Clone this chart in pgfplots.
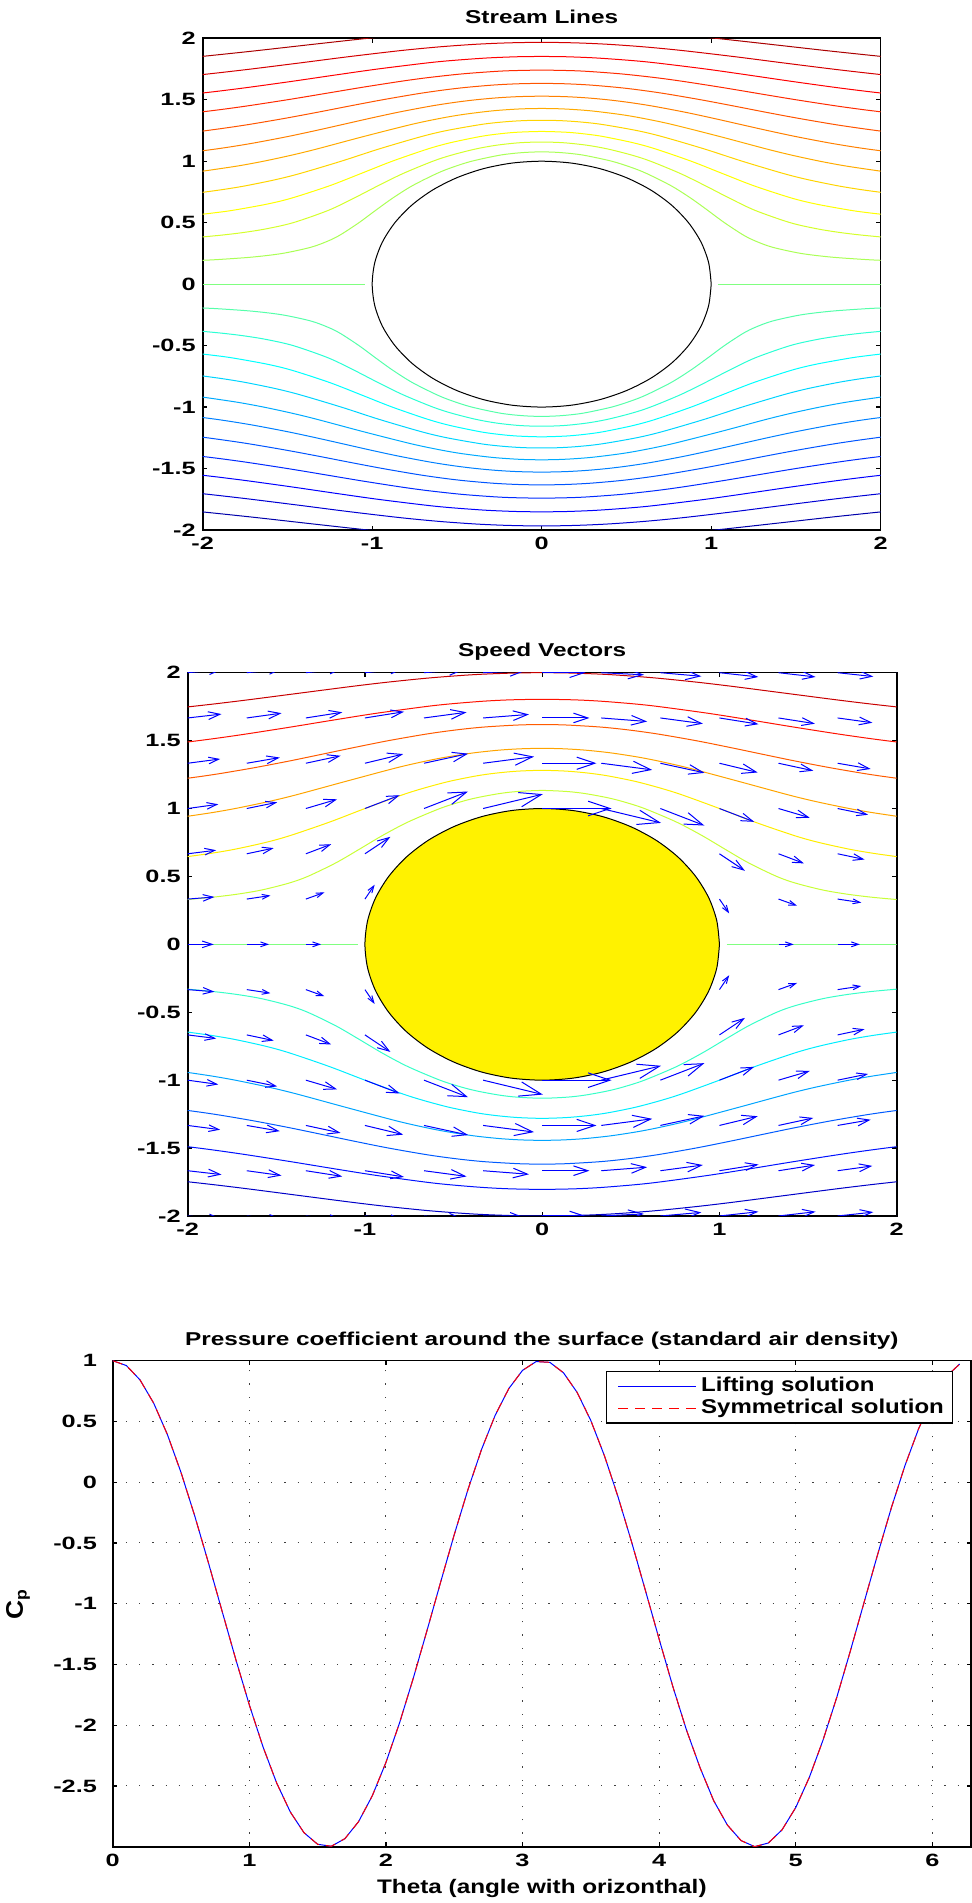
\documentclass[border=0pt]{standalone}
\usepackage{fontspec}
\setmainfont{Liberation Sans}
\newfontfamily\ticksans{Liberation Sans}[FakeStretch=1.42]
\newfontfamily\titlesans{Liberation Sans}[FakeStretch=1.31]
\newfontfamily\xlabsans{Liberation Sans}[FakeStretch=1.24]
\newfontfamily\legsans{Liberation Sans}[FakeStretch=1.2]
\newfontfamily\ylabsans{Liberation Sans}[FakeStretch=1.1]
\usepackage{pgfplots}
\pgfplotsset{compat=1.18}
\usepackage{pgfplotstable}
\usetikzlibrary{arrows.meta}

% jet colours of the 23 stream-function levels (top panel)
\definecolor{sA11}{rgb}{0.667,0,0}
\definecolor{sA10}{rgb}{0.833,0,0}
\definecolor{sA9}{rgb}{1,0,0}
\definecolor{sA8}{rgb}{1,0.167,0}
\definecolor{sA7}{rgb}{1,0.333,0}
\definecolor{sA6}{rgb}{1,0.5,0}
\definecolor{sA5}{rgb}{1,0.667,0}
\definecolor{sA4}{rgb}{1,0.833,0}
\definecolor{sA3}{rgb}{1,1,0}
\definecolor{sA2}{rgb}{0.833,1,0.167}
\definecolor{sA1}{rgb}{0.667,1,0.333}
\definecolor{sZ}{rgb}{0.5,1,0.5}
\definecolor{sB1}{rgb}{0.333,1,0.667}
\definecolor{sB2}{rgb}{0.167,1,0.833}
\definecolor{sB3}{rgb}{0,1,1}
\definecolor{sB4}{rgb}{0,0.833,1}
\definecolor{sB5}{rgb}{0,0.667,1}
\definecolor{sB6}{rgb}{0,0.5,1}
\definecolor{sB7}{rgb}{0,0.333,1}
\definecolor{sB8}{rgb}{0,0.167,1}
\definecolor{sB9}{rgb}{0,0,1}
\definecolor{sB10}{rgb}{0,0,0.833}
\definecolor{sB11}{rgb}{0,0,0.667}
% jet colours of the 13 levels (middle panel)
\definecolor{vA6}{rgb}{0.786,0,0}
\definecolor{vA5}{rgb}{1,0.071,0}
\definecolor{vA4}{rgb}{1,0.357,0}
\definecolor{vA3}{rgb}{1,0.643,0}
\definecolor{vA2}{rgb}{1,0.929,0}
\definecolor{vA1}{rgb}{0.786,1,0.214}
\definecolor{vB1}{rgb}{0.214,1,0.786}
\definecolor{vB2}{rgb}{0,0.929,1}
\definecolor{vB3}{rgb}{0,0.643,1}
\definecolor{vB4}{rgb}{0,0.357,1}
\definecolor{vB5}{rgb}{0,0.071,1}
\definecolor{vB6}{rgb}{0,0,0.786}

\newcommand\tickfont{\ticksans\bfseries\fontsize{8.9}{10}\selectfont}
\newcommand\titlefont{\titlesans\bfseries\fontsize{9.3}{11}\selectfont}
\newcommand\labelfont{\xlabsans\bfseries\fontsize{9.8}{11}\selectfont}
\newcommand\ylabfont{\ylabsans\bfseries\fontsize{12}{14}\selectfont}
\newcommand\legfont{\legsans\bfseries\fontsize{10}{12}\selectfont}

\pgfplotsset{
  matpanel/.style={
    scale only axis,
    axis line style={line width=0.8pt},
    tick style={black,line width=0.6pt},
    major tick length=2.2pt,
    tick align=inside,
    tick label style={font=\tickfont},
    /pgf/number format/assume math mode=true,
    title style={font=\titlefont, anchor=base},
    every axis plot/.append style={line width=0.5pt},
  },
}

\pgfplotstableread{
theta cp
0 1
0.1 0.9601
0.2 0.8421
0.3 0.6507
0.4 0.3934
0.5 0.0806
0.6 -0.2753
0.7 -0.6601
0.8 -1.0584
0.9 -1.4544
1.0 -1.8323
1.1 -2.1770
1.2 -2.4748
1.3 -2.7138
1.4 -2.8844
1.5 -2.9800
1.6 -2.9966
1.7 -2.9336
1.8 -2.7935
1.9 -2.5819
2.0 -2.3073
2.1 -1.9805
2.2 -1.6147
2.3 -1.2243
2.4 -0.8250
2.5 -0.4327
2.6 -0.0630
2.7 0.2694
2.8 0.5511
2.9 0.7710
3.0 0.9203
3.1 0.9931
3.2 0.9864
3.3 0.9005
3.4 0.7388
3.5 0.5078
3.6 0.2167
3.7 -0.1229
3.8 -0.4975
3.9 -0.8921
4.0 -1.2910
4.1 -1.6801
4.2 -2.0386
4.3 -2.3509
4.4 -2.6222
4.5 -2.8223
4.6 -2.9497
4.7 -2.9994
4.8 -2.9694
4.9 -2.8609
5.0 -2.6781
5.1 -2.4285
5.2 -2.1222
5.3 -1.7729
5.4 -1.3891
5.5 -0.9911
5.6 -0.5935
5.7 -0.2108
5.8 0.1373
5.9 0.4410
6.0 0.6877
6.1 0.8673
6.2 0.9724
}\cpdata

\begin{document}
\begin{tikzpicture}
\path[use as bounding box] (0,0) rectangle (486pt,951.5pt);

%% ---------------- Stream Lines ----------------
\begin{axis}[matpanel,
  at={(101.35pt,686.5pt)}, anchor=south west,
  width=339pt, height=245.85pt,
  xmin=-2, xmax=2, ymin=-2, ymax=2,
  xtick={-2,-1,0,1,2}, ytick={-2,-1.5,-1,-0.5,0,0.5,1,1.5,2},
  title={Stream Lines},
  title style={at={([yshift=1.5pt]axis description cs:0.5,1)}},
]
\addplot[smooth, sA11] coordinates {(-2,1.853)(-1.881,1.87)(-1.677,1.9)(-1.355,1.95)(-1.026,2)(-0.804,2.03)(-0.629,2.05)(-0.398,2.07)(-0.212,2.08)(0,2.084)(0.212,2.08)(0.398,2.07)(0.629,2.05)(0.804,2.03)(1.026,2)(1.355,1.95)(1.677,1.9)(1.881,1.87)(2,1.853)};
\addplot[smooth, sA10] coordinates {(-2,1.705)(-1.901,1.72)(-1.714,1.75)(-1.424,1.8)(-1.141,1.85)(-0.832,1.9)(-0.606,1.93)(-0.405,1.95)(-0.256,1.96)(-0.131,1.965)(0,1.967)(0.131,1.965)(0.256,1.96)(0.405,1.95)(0.606,1.93)(0.832,1.9)(1.141,1.85)(1.424,1.8)(1.714,1.75)(1.901,1.72)(2,1.705)};
\addplot[smooth, sA9] coordinates {(-2,1.555)(-1.906,1.57)(-1.734,1.6)(-1.472,1.65)(-1.224,1.7)(-0.968,1.75)(-0.673,1.8)(-0.523,1.82)(-0.32,1.84)(-0.139,1.85)(0,1.852)(0.139,1.85)(0.32,1.84)(0.523,1.82)(0.673,1.8)(0.968,1.75)(1.224,1.7)(1.472,1.65)(1.734,1.6)(1.906,1.57)(2,1.555)};
\addplot[smooth, sA8] coordinates {(-2,1.402)(-1.894,1.42)(-1.736,1.45)(-1.5,1.5)(-1.281,1.55)(-1.064,1.6)(-0.831,1.65)(-0.671,1.68)(-0.472,1.71)(-0.28,1.73)(-0.169,1.737)(0,1.741)(0.169,1.737)(0.28,1.73)(0.472,1.71)(0.671,1.68)(0.831,1.65)(1.064,1.6)(1.281,1.55)(1.5,1.5)(1.736,1.45)(1.894,1.42)(2,1.402)};
\addplot[smooth, sA7] coordinates {(-2,1.245)(-1.867,1.27)(-1.722,1.3)(-1.51,1.35)(-1.316,1.4)(-1.13,1.45)(-0.938,1.5)(-0.726,1.55)(-0.574,1.58)(-0.45,1.6)(-0.282,1.62)(-0.137,1.63)(0,1.633)(0.137,1.63)(0.282,1.62)(0.45,1.6)(0.574,1.58)(0.726,1.55)(0.938,1.5)(1.13,1.45)(1.316,1.4)(1.51,1.35)(1.722,1.3)(1.867,1.27)(2,1.245)};
\addplot[smooth, sA6] coordinates {(-2,1.085)(-1.918,1.1)(-1.821,1.12)(-1.691,1.15)(-1.501,1.2)(-1.331,1.25)(-1.17,1.3)(-1.01,1.35)(-0.841,1.4)(-0.648,1.45)(-0.506,1.48)(-0.387,1.5)(-0.268,1.515)(-0.143,1.525)(0,1.529)(0.143,1.525)(0.268,1.515)(0.387,1.5)(0.506,1.48)(0.648,1.45)(0.841,1.4)(1.01,1.35)(1.17,1.3)(1.331,1.25)(1.501,1.2)(1.691,1.15)(1.821,1.12)(1.918,1.1)(2,1.085)};
\addplot[smooth, sA5] coordinates {(-2,0.919)(-1.799,0.96)(-1.641,1)(-1.473,1.05)(-1.325,1.1)(-1.053,1.2)(-0.766,1.3)(-0.593,1.35)(-0.465,1.38)(-0.288,1.41)(-0.132,1.425)(0,1.429)(0.132,1.425)(0.288,1.41)(0.465,1.38)(0.593,1.35)(0.766,1.3)(1.053,1.2)(1.325,1.1)(1.473,1.05)(1.641,1)(1.799,0.96)(2,0.919)};
\addplot[smooth, sA4] coordinates {(-2,0.747)(-1.879,0.77)(-1.747,0.8)(-1.57,0.85)(-1.426,0.9)(-1.183,1)(-0.959,1.1)(-0.711,1.2)(-0.559,1.25)(-0.352,1.3)(-0.222,1.32)(-0.111,1.33)(0,1.333)(0.111,1.33)(0.222,1.32)(0.352,1.3)(0.559,1.25)(0.711,1.2)(0.959,1.1)(1.183,1)(1.426,0.9)(1.57,0.85)(1.747,0.8)(1.879,0.77)(2,0.747)};
\addplot[smooth, sA3] coordinates {(-2,0.569)(-1.932,0.58)(-1.825,0.6)(-1.624,0.65)(-1.475,0.7)(-1.252,0.8)(-1.066,0.9)(-0.882,1)(-0.671,1.1)(-0.54,1.15)(-0.366,1.2)(-0.266,1.22)(-0.153,1.235)(0,1.242)(0.153,1.235)(0.266,1.22)(0.366,1.2)(0.54,1.15)(0.671,1.1)(0.882,1)(1.066,0.9)(1.252,0.8)(1.475,0.7)(1.624,0.65)(1.825,0.6)(1.932,0.58)(2,0.569)};
\addplot[smooth, sA2] coordinates {(-2,0.384)(-1.88,0.4)(-1.76,0.42)(-1.625,0.45)(-1.466,0.5)(-1.259,0.6)(-1.107,0.7)(-0.966,0.8)(-0.818,0.9)(-0.642,1)(-0.531,1.05)(-0.388,1.1)(-0.267,1.13)(-0.132,1.15)(0,1.156)(0.132,1.15)(0.267,1.13)(0.388,1.1)(0.531,1.05)(0.642,1)(0.818,0.9)(0.966,0.8)(1.107,0.7)(1.259,0.6)(1.466,0.5)(1.625,0.45)(1.76,0.42)(1.88,0.4)(2,0.384)};
\addplot[smooth, sA1] coordinates {(-2,0.194)(-1.911,0.2)(-1.708,0.22)(-1.529,0.25)(-1.362,0.3)(-1.262,0.35)(-1.189,0.4)(-1.078,0.5)(-0.98,0.6)(-0.879,0.7)(-0.764,0.8)(-0.619,0.9)(-0.528,0.95)(-0.413,1)(-0.243,1.05)(-0.114,1.07)(0,1.076)(0.114,1.07)(0.243,1.05)(0.413,1)(0.528,0.95)(0.619,0.9)(0.764,0.8)(0.879,0.7)(0.98,0.6)(1.078,0.5)(1.189,0.4)(1.262,0.35)(1.362,0.3)(1.529,0.25)(1.708,0.22)(1.911,0.2)(2,0.194)};
\addplot[sZ] coordinates {(-2,0)(-1.04,0)};
\addplot[sZ] coordinates {(1.04,0)(2,0)};
\addplot[smooth, sB1] coordinates {(-2,-0.194)(-1.911,-0.2)(-1.708,-0.22)(-1.529,-0.25)(-1.362,-0.3)(-1.262,-0.35)(-1.189,-0.4)(-1.078,-0.5)(-0.98,-0.6)(-0.879,-0.7)(-0.764,-0.8)(-0.619,-0.9)(-0.528,-0.95)(-0.413,-1)(-0.243,-1.05)(-0.114,-1.07)(0,-1.076)(0.114,-1.07)(0.243,-1.05)(0.413,-1)(0.528,-0.95)(0.619,-0.9)(0.764,-0.8)(0.879,-0.7)(0.98,-0.6)(1.078,-0.5)(1.189,-0.4)(1.262,-0.35)(1.362,-0.3)(1.529,-0.25)(1.708,-0.22)(1.911,-0.2)(2,-0.194)};
\addplot[smooth, sB2] coordinates {(-2,-0.384)(-1.88,-0.4)(-1.76,-0.42)(-1.625,-0.45)(-1.466,-0.5)(-1.259,-0.6)(-1.107,-0.7)(-0.966,-0.8)(-0.818,-0.9)(-0.642,-1)(-0.531,-1.05)(-0.388,-1.1)(-0.267,-1.13)(-0.132,-1.15)(0,-1.156)(0.132,-1.15)(0.267,-1.13)(0.388,-1.1)(0.531,-1.05)(0.642,-1)(0.818,-0.9)(0.966,-0.8)(1.107,-0.7)(1.259,-0.6)(1.466,-0.5)(1.625,-0.45)(1.76,-0.42)(1.88,-0.4)(2,-0.384)};
\addplot[smooth, sB3] coordinates {(-2,-0.569)(-1.932,-0.58)(-1.825,-0.6)(-1.624,-0.65)(-1.475,-0.7)(-1.252,-0.8)(-1.066,-0.9)(-0.882,-1)(-0.671,-1.1)(-0.54,-1.15)(-0.366,-1.2)(-0.266,-1.22)(-0.153,-1.235)(0,-1.242)(0.153,-1.235)(0.266,-1.22)(0.366,-1.2)(0.54,-1.15)(0.671,-1.1)(0.882,-1)(1.066,-0.9)(1.252,-0.8)(1.475,-0.7)(1.624,-0.65)(1.825,-0.6)(1.932,-0.58)(2,-0.569)};
\addplot[smooth, sB4] coordinates {(-2,-0.747)(-1.879,-0.77)(-1.747,-0.8)(-1.57,-0.85)(-1.426,-0.9)(-1.183,-1)(-0.959,-1.1)(-0.711,-1.2)(-0.559,-1.25)(-0.352,-1.3)(-0.222,-1.32)(-0.111,-1.33)(0,-1.333)(0.111,-1.33)(0.222,-1.32)(0.352,-1.3)(0.559,-1.25)(0.711,-1.2)(0.959,-1.1)(1.183,-1)(1.426,-0.9)(1.57,-0.85)(1.747,-0.8)(1.879,-0.77)(2,-0.747)};
\addplot[smooth, sB5] coordinates {(-2,-0.919)(-1.799,-0.96)(-1.641,-1)(-1.473,-1.05)(-1.325,-1.1)(-1.053,-1.2)(-0.766,-1.3)(-0.593,-1.35)(-0.465,-1.38)(-0.288,-1.41)(-0.132,-1.425)(0,-1.429)(0.132,-1.425)(0.288,-1.41)(0.465,-1.38)(0.593,-1.35)(0.766,-1.3)(1.053,-1.2)(1.325,-1.1)(1.473,-1.05)(1.641,-1)(1.799,-0.96)(2,-0.919)};
\addplot[smooth, sB6] coordinates {(-2,-1.085)(-1.918,-1.1)(-1.821,-1.12)(-1.691,-1.15)(-1.501,-1.2)(-1.331,-1.25)(-1.17,-1.3)(-1.01,-1.35)(-0.841,-1.4)(-0.648,-1.45)(-0.506,-1.48)(-0.387,-1.5)(-0.268,-1.515)(-0.143,-1.525)(0,-1.529)(0.143,-1.525)(0.268,-1.515)(0.387,-1.5)(0.506,-1.48)(0.648,-1.45)(0.841,-1.4)(1.01,-1.35)(1.17,-1.3)(1.331,-1.25)(1.501,-1.2)(1.691,-1.15)(1.821,-1.12)(1.918,-1.1)(2,-1.085)};
\addplot[smooth, sB7] coordinates {(-2,-1.245)(-1.867,-1.27)(-1.722,-1.3)(-1.51,-1.35)(-1.316,-1.4)(-1.13,-1.45)(-0.938,-1.5)(-0.726,-1.55)(-0.574,-1.58)(-0.45,-1.6)(-0.282,-1.62)(-0.137,-1.63)(0,-1.633)(0.137,-1.63)(0.282,-1.62)(0.45,-1.6)(0.574,-1.58)(0.726,-1.55)(0.938,-1.5)(1.13,-1.45)(1.316,-1.4)(1.51,-1.35)(1.722,-1.3)(1.867,-1.27)(2,-1.245)};
\addplot[smooth, sB8] coordinates {(-2,-1.402)(-1.894,-1.42)(-1.736,-1.45)(-1.5,-1.5)(-1.281,-1.55)(-1.064,-1.6)(-0.831,-1.65)(-0.671,-1.68)(-0.472,-1.71)(-0.28,-1.73)(-0.169,-1.737)(0,-1.741)(0.169,-1.737)(0.28,-1.73)(0.472,-1.71)(0.671,-1.68)(0.831,-1.65)(1.064,-1.6)(1.281,-1.55)(1.5,-1.5)(1.736,-1.45)(1.894,-1.42)(2,-1.402)};
\addplot[smooth, sB9] coordinates {(-2,-1.555)(-1.906,-1.57)(-1.734,-1.6)(-1.472,-1.65)(-1.224,-1.7)(-0.968,-1.75)(-0.673,-1.8)(-0.523,-1.82)(-0.32,-1.84)(-0.139,-1.85)(0,-1.852)(0.139,-1.85)(0.32,-1.84)(0.523,-1.82)(0.673,-1.8)(0.968,-1.75)(1.224,-1.7)(1.472,-1.65)(1.734,-1.6)(1.906,-1.57)(2,-1.555)};
\addplot[smooth, sB10] coordinates {(-2,-1.705)(-1.901,-1.72)(-1.714,-1.75)(-1.424,-1.8)(-1.141,-1.85)(-0.832,-1.9)(-0.606,-1.93)(-0.405,-1.95)(-0.256,-1.96)(-0.131,-1.965)(0,-1.967)(0.131,-1.965)(0.256,-1.96)(0.405,-1.95)(0.606,-1.93)(0.832,-1.9)(1.141,-1.85)(1.424,-1.8)(1.714,-1.75)(1.901,-1.72)(2,-1.705)};
\addplot[smooth, sB11] coordinates {(-2,-1.853)(-1.881,-1.87)(-1.677,-1.9)(-1.355,-1.95)(-1.026,-2)(-0.804,-2.03)(-0.629,-2.05)(-0.398,-2.07)(-0.212,-2.08)(0,-2.084)(0.212,-2.08)(0.398,-2.07)(0.629,-2.05)(0.804,-2.03)(1.026,-2)(1.355,-1.95)(1.677,-1.9)(1.881,-1.87)(2,-1.853)};
% cylinder surface
\addplot[smooth, black] coordinates {(1,0)(0.985,0.174)(0.94,0.342)(0.866,0.5)(0.766,0.643)(0.643,0.766)(0.5,0.866)(0.342,0.94)(0.174,0.985)(0,1)(-0.174,0.985)(-0.342,0.94)(-0.5,0.866)(-0.643,0.766)(-0.766,0.643)(-0.866,0.5)(-0.94,0.342)(-0.985,0.174)(-1,0)(-0.985,-0.174)(-0.94,-0.342)(-0.866,-0.5)(-0.766,-0.643)(-0.643,-0.766)(-0.5,-0.866)(-0.342,-0.94)(-0.174,-0.985)(0,-1)(0.174,-0.985)(0.342,-0.94)(0.5,-0.866)(0.643,-0.766)(0.766,-0.643)(0.866,-0.5)(0.94,-0.342)(0.985,-0.174)(1,0)};
\end{axis}

%% ---------------- Speed Vectors ----------------
\begin{axis}[matpanel,
  at={(93.85pt,343.5pt)}, anchor=south west,
  width=354.5pt, height=271.65pt,
  xmin=-2, xmax=2, ymin=-2, ymax=2,
  xtick={-2,-1,0,1,2}, ytick={-2,-1.5,-1,-0.5,0,0.5,1,1.5,2},
  title={Speed Vectors},
  title style={at={([yshift=2.3pt]axis description cs:0.5,1)}},
]
\addplot[smooth, vA6] coordinates {(-2,1.748)(-1.85,1.77)(-1.661,1.8)(-1.365,1.85)(-1.068,1.9)(-0.874,1.93)(-0.648,1.96)(-0.452,1.98)(-0.318,1.99)(-0.142,1.998)(0,2)(0.142,1.998)(0.318,1.99)(0.452,1.98)(0.648,1.96)(0.874,1.93)(1.068,1.9)(1.365,1.85)(1.661,1.8)(1.85,1.77)(2,1.748)};
\addplot[smooth, vA5] coordinates {(-2,1.49)(-1.937,1.5)(-1.822,1.52)(-1.663,1.55)(-1.418,1.6)(-1.184,1.65)(-0.942,1.7)(-0.661,1.75)(-0.521,1.77)(-0.333,1.79)(-0.181,1.8)(0,1.804)(0.181,1.8)(0.333,1.79)(0.521,1.77)(0.661,1.75)(0.942,1.7)(1.184,1.65)(1.418,1.6)(1.663,1.55)(1.822,1.52)(1.937,1.5)(2,1.49)};
\addplot[smooth, vA4] coordinates {(-2,1.223)(-1.905,1.24)(-1.805,1.26)(-1.626,1.3)(-1.426,1.35)(-1.241,1.4)(-1.058,1.45)(-0.866,1.5)(-0.645,1.55)(-0.477,1.58)(-0.327,1.6)(-0.133,1.615)(0,1.618)(0.133,1.615)(0.327,1.6)(0.477,1.58)(0.645,1.55)(0.866,1.5)(1.058,1.45)(1.241,1.4)(1.426,1.35)(1.626,1.3)(1.805,1.26)(1.905,1.24)(2,1.223)};
\addplot[smooth, vA3] coordinates {(-2,0.943)(-1.862,0.97)(-1.732,1)(-1.548,1.05)(-1.39,1.1)(-1.108,1.2)(-0.821,1.3)(-0.654,1.35)(-0.535,1.38)(-0.385,1.41)(-0.241,1.43)(-0.116,1.44)(0,1.443)(0.116,1.44)(0.241,1.43)(0.385,1.41)(0.535,1.38)(0.654,1.35)(0.821,1.3)(1.108,1.2)(1.39,1.1)(1.548,1.05)(1.732,1)(1.862,0.97)(2,0.943)};
\addplot[smooth, vA2] coordinates {(-2,0.646)(-1.869,0.67)(-1.735,0.7)(-1.561,0.75)(-1.424,0.8)(-1.2,0.9)(-1,1)(-0.79,1.1)(-0.668,1.15)(-0.524,1.2)(-0.372,1.24)(-0.265,1.26)(-0.14,1.275)(0,1.281)(0.14,1.275)(0.265,1.26)(0.372,1.24)(0.524,1.2)(0.668,1.15)(0.79,1.1)(1,1)(1.2,0.9)(1.424,0.8)(1.561,0.75)(1.735,0.7)(1.869,0.67)(2,0.646)};
\addplot[smooth, vA1] coordinates {(-2,0.33)(-1.914,0.34)(-1.838,0.35)(-1.717,0.37)(-1.583,0.4)(-1.431,0.45)(-1.323,0.5)(-1.164,0.6)(-1.032,0.7)(-0.903,0.8)(-0.758,0.9)(-0.577,1)(-0.458,1.05)(-0.367,1.08)(-0.242,1.11)(-0.142,1.125)(0,1.133)(0.142,1.125)(0.242,1.11)(0.367,1.08)(0.458,1.05)(0.577,1)(0.758,0.9)(0.903,0.8)(1.032,0.7)(1.164,0.6)(1.323,0.5)(1.431,0.45)(1.583,0.4)(1.717,0.37)(1.838,0.35)(1.914,0.34)(2,0.33)};
\addplot[sZ] coordinates {(-2,0)(-1.04,0)};
\addplot[sZ] coordinates {(1.04,0)(2,0)};
\addplot[smooth, vB1] coordinates {(-2,-0.33)(-1.914,-0.34)(-1.838,-0.35)(-1.717,-0.37)(-1.583,-0.4)(-1.431,-0.45)(-1.323,-0.5)(-1.164,-0.6)(-1.032,-0.7)(-0.903,-0.8)(-0.758,-0.9)(-0.577,-1)(-0.458,-1.05)(-0.367,-1.08)(-0.242,-1.11)(-0.142,-1.125)(0,-1.133)(0.142,-1.125)(0.242,-1.11)(0.367,-1.08)(0.458,-1.05)(0.577,-1)(0.758,-0.9)(0.903,-0.8)(1.032,-0.7)(1.164,-0.6)(1.323,-0.5)(1.431,-0.45)(1.583,-0.4)(1.717,-0.37)(1.838,-0.35)(1.914,-0.34)(2,-0.33)};
\addplot[smooth, vB2] coordinates {(-2,-0.646)(-1.869,-0.67)(-1.735,-0.7)(-1.561,-0.75)(-1.424,-0.8)(-1.2,-0.9)(-1,-1)(-0.79,-1.1)(-0.668,-1.15)(-0.524,-1.2)(-0.372,-1.24)(-0.265,-1.26)(-0.14,-1.275)(0,-1.281)(0.14,-1.275)(0.265,-1.26)(0.372,-1.24)(0.524,-1.2)(0.668,-1.15)(0.79,-1.1)(1,-1)(1.2,-0.9)(1.424,-0.8)(1.561,-0.75)(1.735,-0.7)(1.869,-0.67)(2,-0.646)};
\addplot[smooth, vB3] coordinates {(-2,-0.943)(-1.862,-0.97)(-1.732,-1)(-1.548,-1.05)(-1.39,-1.1)(-1.108,-1.2)(-0.821,-1.3)(-0.654,-1.35)(-0.535,-1.38)(-0.385,-1.41)(-0.241,-1.43)(-0.116,-1.44)(0,-1.443)(0.116,-1.44)(0.241,-1.43)(0.385,-1.41)(0.535,-1.38)(0.654,-1.35)(0.821,-1.3)(1.108,-1.2)(1.39,-1.1)(1.548,-1.05)(1.732,-1)(1.862,-0.97)(2,-0.943)};
\addplot[smooth, vB4] coordinates {(-2,-1.223)(-1.905,-1.24)(-1.805,-1.26)(-1.626,-1.3)(-1.426,-1.35)(-1.241,-1.4)(-1.058,-1.45)(-0.866,-1.5)(-0.645,-1.55)(-0.477,-1.58)(-0.327,-1.6)(-0.133,-1.615)(0,-1.618)(0.133,-1.615)(0.327,-1.6)(0.477,-1.58)(0.645,-1.55)(0.866,-1.5)(1.058,-1.45)(1.241,-1.4)(1.426,-1.35)(1.626,-1.3)(1.805,-1.26)(1.905,-1.24)(2,-1.223)};
\addplot[smooth, vB5] coordinates {(-2,-1.49)(-1.937,-1.5)(-1.822,-1.52)(-1.663,-1.55)(-1.418,-1.6)(-1.184,-1.65)(-0.942,-1.7)(-0.661,-1.75)(-0.521,-1.77)(-0.333,-1.79)(-0.181,-1.8)(0,-1.804)(0.181,-1.8)(0.333,-1.79)(0.521,-1.77)(0.661,-1.75)(0.942,-1.7)(1.184,-1.65)(1.418,-1.6)(1.663,-1.55)(1.822,-1.52)(1.937,-1.5)(2,-1.49)};
\addplot[smooth, vB6] coordinates {(-2,-1.748)(-1.85,-1.77)(-1.661,-1.8)(-1.365,-1.85)(-1.068,-1.9)(-0.874,-1.93)(-0.648,-1.96)(-0.452,-1.98)(-0.318,-1.99)(-0.142,-1.998)(0,-2)(0.142,-1.998)(0.318,-1.99)(0.452,-1.98)(0.648,-1.96)(0.874,-1.93)(1.068,-1.9)(1.365,-1.85)(1.661,-1.8)(1.85,-1.77)(2,-1.748)};
% cylinder
\addplot[smooth, draw=black, fill=yellow] coordinates {(1,0)(0.985,0.174)(0.94,0.342)(0.866,0.5)(0.766,0.643)(0.643,0.766)(0.5,0.866)(0.342,0.94)(0.174,0.985)(0,1)(-0.174,0.985)(-0.342,0.94)(-0.5,0.866)(-0.643,0.766)(-0.766,0.643)(-0.866,0.5)(-0.94,0.342)(-0.985,0.174)(-1,0)(-0.985,-0.174)(-0.94,-0.342)(-0.866,-0.5)(-0.766,-0.643)(-0.643,-0.766)(-0.5,-0.866)(-0.342,-0.94)(-0.174,-0.985)(0,-1)(0.174,-0.985)(0.342,-0.94)(0.5,-0.866)(0.643,-0.766)(0.766,-0.643)(0.866,-0.5)(0.94,-0.342)(0.985,-0.174)(1,0)};
% velocity vectors, grouped by speed so that head size follows arrow length
\addplot[blue, line width=0.5pt, -{Straight Barb[length=3.5pt,width=2.4pt]},
  quiver={u=\thisrow{u},v=\thisrow{v},scale arrows=0.196}] table[x=x,y=y] {
x y u v
1 0.3333 0.28 -0.54
-1 0.3333 0.28 0.54
1 -0.3333 0.28 0.54
-1 -0.3333 0.28 -0.54
1.3333 0 0.4375 0
-1.3333 0 0.4375 0
1.3333 0.3333 0.5329 -0.2491
-1.3333 0.3333 0.5329 0.2491
1.3333 -0.3333 0.5329 0.2491
-1.3333 -0.3333 0.5329 -0.2491
1.6667 0 0.64 0
-1.6667 0 0.64 0
1.6667 0.3333 0.6805 -0.1331
-1.6667 0.3333 0.6805 0.1331
1.6667 -0.3333 0.6805 0.1331
-1.6667 -0.3333 0.6805 -0.1331
};
\addplot[blue, line width=0.5pt, -{Straight Barb[length=5pt,width=3.3pt]},
  quiver={u=\thisrow{u},v=\thisrow{v},scale arrows=0.196}] table[x=x,y=y] {
x y u v
1.3333 0.6667 0.73 -0.36
-1.3333 0.6667 0.73 0.36
1.3333 -0.6667 0.73 0.36
-1.3333 -0.6667 0.73 -0.36
1.6667 0.6667 0.7753 -0.214
-1.6667 0.6667 0.7753 0.214
1.6667 -0.6667 0.7753 0.214
-1.6667 -0.6667 0.7753 -0.214
1.6667 1 0.8754 -0.2336
-1.6667 1 0.8754 0.2336
1.6667 -1 0.8754 0.2336
-1.6667 -1 0.8754 -0.2336
2 0 0.75 0
-2 0 0.75 0
2 0.3333 0.7699 -0.0789
-2 0.3333 0.7699 0.0789
2 -0.3333 0.7699 0.0789
-2 -0.3333 0.7699 -0.0789
2 0.6667 0.82 -0.135
-2 0.6667 0.82 0.135
2 -0.6667 0.82 0.135
-2 -0.6667 0.82 -0.135
2 1 0.88 -0.16
-2 1 0.88 0.16
2 -1 0.88 0.16
-2 -1 0.88 -0.16
2 1.3333 0.9334 -0.1598
-2 1.3333 0.9334 0.1598
2 -1.3333 0.9334 0.1598
-2 -1.3333 0.9334 -0.1598
};
\addplot[blue, line width=0.5pt, -{Straight Barb[length=5.9pt,width=3.9pt]},
  quiver={u=\thisrow{u},v=\thisrow{v},scale arrows=0.196}] table[x=x,y=y] {
x y u v
1 0.6667 0.7337 -0.6391
-1 0.6667 0.7337 0.6391
1 -0.6667 0.7337 0.6391
-1 -0.6667 0.7337 -0.6391
1 1 1 -0.5
-1 1 1 0.5
1 -1 1 0.5
-1 -1 1 -0.5
1 1.6667 1.1246 -0.2336
-1 1.6667 1.1246 0.2336
1 -1.6667 1.1246 0.2336
-1 -1.6667 1.1246 -0.2336
1 2 1.12 -0.16
-1 2 1.12 0.16
1 -2 1.12 0.16
-1 -2 1.12 -0.16
1.3333 1 0.8992 -0.3456
-1.3333 1 0.8992 0.3456
1.3333 -1 0.8992 0.3456
-1.3333 -1 0.8992 -0.3456
1.3333 1.3333 1 -0.2813
-1.3333 1.3333 1 0.2813
1.3333 -1.3333 1 0.2813
-1.3333 -1.3333 1 -0.2813
1.3333 1.6667 1.0482 -0.2142
-1.3333 1.6667 1.0482 0.2142
1.3333 -1.6667 1.0482 0.2142
-1.3333 -1.6667 1.0482 -0.2142
1.3333 2 1.0666 -0.1598
-1.3333 2 1.0666 0.1598
1.3333 -2 1.0666 0.1598
-1.3333 -2 1.0666 -0.1598
1.6667 1.3333 0.9518 -0.2142
-1.6667 1.3333 0.9518 0.2142
1.6667 -1.3333 0.9518 0.2142
-1.6667 -1.3333 0.9518 -0.2142
1.6667 1.6667 1 -0.18
-1.6667 1.6667 1 0.18
1.6667 -1.6667 1 0.18
-1.6667 -1.6667 1 -0.18
1.6667 2 1.0266 -0.1451
-1.6667 2 1.0266 0.1451
1.6667 -2 1.0266 0.1451
-1.6667 -2 1.0266 -0.1451
2 1.6667 0.9734 -0.1451
-2 1.6667 0.9734 0.1451
2 -1.6667 0.9734 0.1451
-2 -1.6667 0.9734 -0.1451
2 2 1 -0.125
-2 2 1 0.125
2 -2 1 0.125
-2 -2 1 -0.125
};
\addplot[blue, line width=0.5pt, -{Straight Barb[length=7.2pt,width=4.8pt]},
  quiver={u=\thisrow{u},v=\thisrow{v},scale arrows=0.196}] table[x=x,y=y] {
x y u v
0 1.6667 1.36 0
0 -1.6667 1.36 0
0 2 1.25 0
0 -2 1.25 0
0.3333 1.6667 1.3195 -0.1331
-0.3333 1.6667 1.3195 0.1331
0.3333 -1.6667 1.3195 0.1331
-0.3333 -1.6667 1.3195 -0.1331
0.3333 2 1.2301 -0.0789
-0.3333 2 1.2301 0.0789
0.3333 -2 1.2301 0.0789
-0.3333 -2 1.2301 -0.0789
0.6667 1.3333 1.27 -0.36
-0.6667 1.3333 1.27 0.36
0.6667 -1.3333 1.27 0.36
-0.6667 -1.3333 1.27 -0.36
0.6667 1.6667 1.2247 -0.214
-0.6667 1.6667 1.2247 0.214
0.6667 -1.6667 1.2247 0.214
-0.6667 -1.6667 1.2247 -0.214
0.6667 2 1.18 -0.135
-0.6667 2 1.18 0.135
0.6667 -2 1.18 0.135
-0.6667 -2 1.18 -0.135
1 1.3333 1.1008 -0.3456
-1 1.3333 1.1008 0.3456
1 -1.3333 1.1008 0.3456
-1 -1.3333 1.1008 -0.3456
};
\addplot[blue, line width=0.5pt, -{Straight Barb[length=9.1pt,width=6.1pt]},
  quiver={u=\thisrow{u},v=\thisrow{v},scale arrows=0.196}] table[x=x,y=y] {
x y u v
0 1.3333 1.5625 0
0 -1.3333 1.5625 0
0.3333 1.3333 1.4671 -0.2491
-0.3333 1.3333 1.4671 0.2491
0.3333 -1.3333 1.4671 0.2491
-0.3333 -1.3333 1.4671 -0.2491
0.6667 1 1.2663 -0.6391
-0.6667 1 1.2663 0.6391
0.6667 -1 1.2663 0.6391
-0.6667 -1 1.2663 -0.6391
};
\addplot[blue, line width=0.5pt, -{Straight Barb[length=11pt,width=7.3pt]},
  quiver={u=\thisrow{u},v=\thisrow{v},scale arrows=0.196}] table[x=x,y=y] {
x y u v
0 1 2 0
0 -1 2 0
0.3333 1 1.72 -0.54
-0.3333 1 1.72 0.54
0.3333 -1 1.72 0.54
-0.3333 -1 1.72 -0.54
};
\end{axis}

%% ---------------- Pressure coefficient ----------------
\begin{axis}[matpanel,
  at={(56.35pt,28.15pt)}, anchor=south west,
  width=429.15pt, height=243pt,
  xmin=0, xmax=6.2832, ymin=-3, ymax=1,
  xtick={0,1,2,3,4,5,6}, ytick={-2.5,-2,-1.5,-1,-0.5,0,0.5,1},
  yticklabel style={xshift=-4.4pt},
  grid=major,
  major grid style={black!75, line width=0.5pt, dash pattern=on 0.6pt off 6pt},
  title={Pressure coefficient around the surface (standard air density)},
  title style={at={([yshift=1.5pt]axis description cs:0.5,1)}},
  xlabel={Theta (angle with orizonthal)},
  xlabel style={font=\labelfont, at={([yshift=-23.3pt]axis description cs:0.5,0)}, anchor=base},
  ylabel={C\textsubscript{p}},
  ylabel style={font=\ylabfont, at={([xshift=-44.85pt]axis description cs:0,0.5)}, anchor=base},
  legend cell align=left,
  legend style={at={([xshift=-9.15pt,yshift=-5pt]axis description cs:1,1)}, anchor=north east,
    draw=black, line width=0.6pt, fill=white, font=\legfont,
    inner xsep=2pt, inner ysep=2pt,
    nodes={inner xsep=2.1pt, inner ysep=1.1pt}},
  legend image code/.code={\path (0pt,0pt); \draw[#1, line width=0.5pt] (3.7pt,0pt) -- (42.7pt,0pt);},
]
\addplot[blue, solid] table[x=theta, y=cp] {\cpdata};
\addlegendentry{Lifting solution}
\addplot[red, dash pattern=on 5pt off 3.5pt] table[x=theta, y=cp] {\cpdata};
\addlegendentry{Symmetrical solution}
\end{axis}
\end{tikzpicture}
\end{document}
